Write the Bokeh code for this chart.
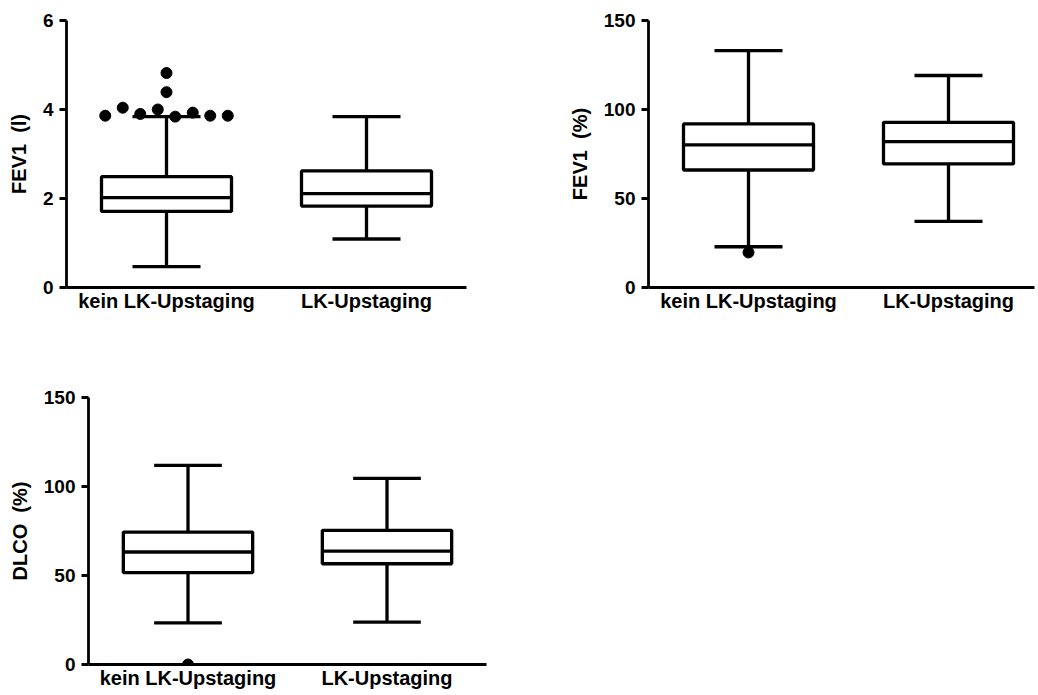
from bokeh.plotting import figure
from bokeh.layouts import column, row
from bokeh.models import FixedTicker, Range1d, ColumnDataSource
from bokeh.embed import file_html
from bokeh.resources import INLINE

categories = ["kein LK-Upstaging", "LK-Upstaging"]

# Panel 1: FEV1 (l)
fev1l_lower = [0.47, 1.09]
fev1l_q1 = [1.71, 1.83]
fev1l_median = [2.02, 2.11]
fev1l_q3 = [2.49, 2.62]
fev1l_upper = [3.84, 3.84]
fev1l_outliers = [3.86, 4.04, 3.90, 4.00, 4.39, 4.82, 3.84, 3.93, 3.86, 3.86]
fev1l_ticks = [0, 2, 4, 6]

# Panel 2: FEV1 (%)
fev1p_lower = [22.9, 37.1]
fev1p_q1 = [66.0, 69.4]
fev1p_median = [80.1, 82.0]
fev1p_q3 = [91.9, 92.8]
fev1p_upper = [133.1, 119.1]
fev1p_outliers = [19.7]
pct_ticks = [0, 50, 100, 150]

# Panel 3: DLCO (%)
dlco_lower = [23.4, 23.8]
dlco_q1 = [51.6, 56.6]
dlco_median = [63.2, 63.75]
dlco_q3 = [74.4, 75.4]
dlco_upper = [111.9, 104.6]
dlco_outliers = [0.0]

FONT = "Liberation Sans"
LW = 3.3
POS = [0.5, 1.5]


def swarm_offsets(vals, tol=0.25, step=0.0875):
    if not vals:
        return []
    idx = sorted(range(len(vals)), key=lambda i: vals[i])
    clusters, cur = [], [idx[0]]
    for a, b in zip(idx, idx[1:]):
        if vals[b] - vals[a] <= tol:
            cur.append(b)
        else:
            clusters.append(cur)
            cur = [b]
    clusters.append(cur)
    off = [0.0] * len(vals)
    for c in clusters:
        c = sorted(c)
        n = len(c)
        for k, i in enumerate(c):
            off[i] = (k - (n - 1) / 2) * step
    return off


def make_panel(width, height, xmax, ymax, ticks, ylabel, lower, q1, med, q3, upper,
               outliers, swarm_tol, swarm_step, borders):
    bl, br, bt, bb = borders
    p = figure(width=width, height=height, x_range=Range1d(0, xmax), y_range=Range1d(0, ymax),
               output_backend="svg", toolbar_location=None,
               min_border_left=bl, min_border_right=br, min_border_top=bt, min_border_bottom=bb)
    p.outline_line_color = None
    p.grid.visible = False
    p.background_fill_color = "white"
    p.border_fill_color = "white"

    box_w = 0.65
    cap_w = 0.34
    src = ColumnDataSource(dict(
        x=POS, lower=lower, q1=q1, med=med, q3=q3, upper=upper,
        bl=[x - box_w / 2 for x in POS], br=[x + box_w / 2 for x in POS],
        cl=[x - cap_w / 2 for x in POS], cr=[x + cap_w / 2 for x in POS],
    ))
    p.segment(x0="x", y0="q3", x1="x", y1="upper", source=src, line_color="black", line_width=LW)
    p.segment(x0="x", y0="q1", x1="x", y1="lower", source=src, line_color="black", line_width=LW)
    p.quad(left="bl", right="br", bottom="q1", top="q3", source=src,
           fill_color="white", line_color="black", line_width=LW)
    p.segment(x0="bl", y0="med", x1="br", y1="med", source=src, line_color="black", line_width=LW)
    p.segment(x0="cl", y0="upper", x1="cr", y1="upper", source=src, line_color="black", line_width=LW)
    p.segment(x0="cl", y0="lower", x1="cr", y1="lower", source=src, line_color="black", line_width=LW)

    if outliers:
        offs = swarm_offsets(outliers, swarm_tol, swarm_step)
        p.scatter(x=[POS[0] + o for o in offs], y=outliers, size=11,
                  fill_color="black", line_color="black")

    # axes
    xa = p.xaxis[0]
    xa.ticker = FixedTicker(ticks=POS)
    xa.major_label_overrides = {POS[0]: categories[0], POS[1]: categories[1]}
    xa.major_tick_out = 0
    xa.major_tick_in = 0
    xa.minor_tick_line_color = None
    xa.axis_line_width = 2.8
    xa.axis_line_color = "black"
    xa.major_label_standoff = 2
    xa.major_label_text_font = FONT
    xa.major_label_text_font_style = "bold"
    xa.major_label_text_font_size = "20px"
    xa.major_label_text_color = "black"

    ya = p.yaxis[0]
    ya.ticker = FixedTicker(ticks=ticks)
    ya.major_tick_out = 7
    ya.major_tick_in = 0
    ya.major_tick_line_width = 2.8
    ya.major_tick_line_color = "black"
    ya.minor_tick_line_color = None
    ya.axis_line_width = 2.8
    ya.axis_line_color = "black"
    ya.major_label_standoff = 6
    ya.major_label_text_font = FONT
    ya.major_label_text_font_style = "bold"
    ya.major_label_text_font_size = "19px"
    ya.major_label_text_color = "black"
    ya.axis_label = ylabel
    ya.axis_label_standoff = 10
    ya.axis_label_text_font = FONT
    ya.axis_label_text_font_style = "bold"
    ya.axis_label_text_font_size = "20px"
    ya.axis_label_text_color = "black"
    return p


p1 = make_panel(508, 350, 2.0, 6, fev1l_ticks, "FEV1 \u00a0(l)",
                fev1l_lower, fev1l_q1, fev1l_median, fev1l_q3, fev1l_upper,
                fev1l_outliers, 0.25, 0.0875, (66, 42, 20, 63))
p2 = make_panel(528, 350, 1.93, 150, pct_ticks, "FEV1 \u00a0(%)",
                fev1p_lower, fev1p_q1, fev1p_median, fev1p_q3, fev1p_upper,
                fev1p_outliers, 5, 0.0875, (140, 2, 20, 63))
p3 = make_panel(506, 343, 2.0, 150, pct_ticks, "DLCO \u00a0(%)",
                dlco_lower, dlco_q1, dlco_median, dlco_q3, dlco_upper,
                dlco_outliers, 5, 0.0875, (88, 20, 47, 29))

layout = column(row(p1, p2), p3)

open("out.html", "w").write(file_html(layout, INLINE))
